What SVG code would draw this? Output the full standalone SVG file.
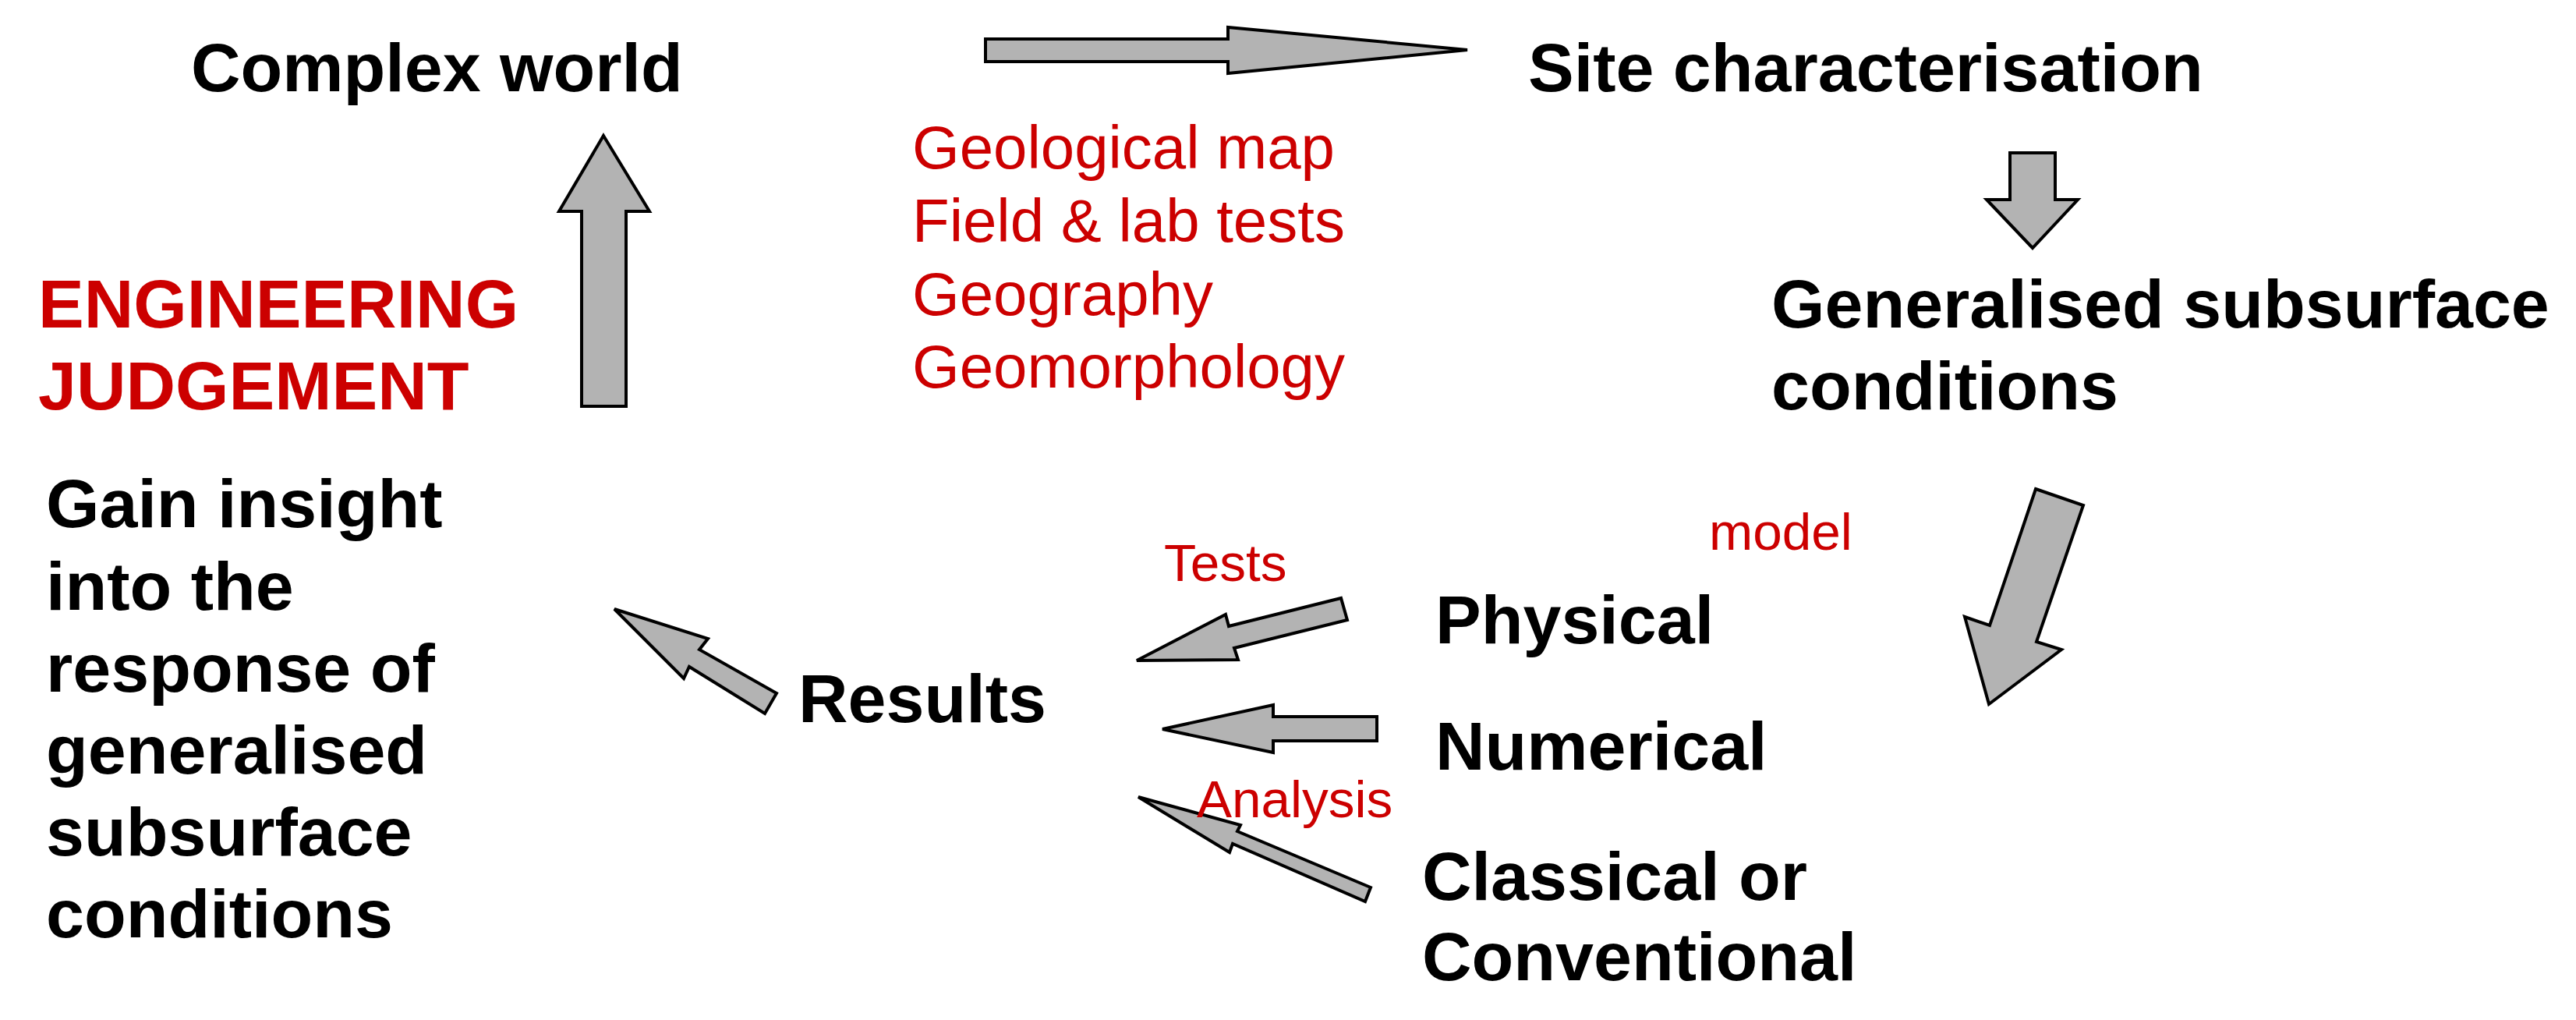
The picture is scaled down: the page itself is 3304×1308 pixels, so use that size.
<svg xmlns="http://www.w3.org/2000/svg" width="3304" height="1308" viewBox="0 0 3304 1308">
<style>
.arrow{fill:#b3b3b3;stroke:#000;stroke-width:4;stroke-linejoin:miter}
.node{font-family:"Liberation Sans",Arial,sans-serif;font-weight:bold;font-size:88px;fill:#000}
.judge{font-family:"Liberation Sans",Arial,sans-serif;font-weight:bold;font-size:88px;fill:#cc0000}
.list{font-family:"Liberation Sans",Arial,sans-serif;font-size:78px;fill:#cc0000}
.lbl{font-family:"Liberation Sans",Arial,sans-serif;font-size:67.5px;fill:#cc0000}
</style>
<rect width="3304" height="1308" fill="#fff"/>
<g id="connectors">
<polygon class="arrow" points="1264,50 1575,50 1575,35 1882,64 1575,94 1575,79 1264,79"/>
<polygon class="arrow" points="2578,196 2636,196 2636,256 2665,256 2607,318 2548,256 2578,256"/>
<polygon class="arrow" points="2611,627 2672,648 2612,823 2644,833 2551,903 2520,791 2552,802"/>
<polygon class="arrow" points="1458,847 1572,788 1576,803 1720,767 1728,795 1583,831 1588,846"/>
<polygon class="arrow" points="1491,935 1633,904 1633,919 1766,919 1766,950 1633,950 1633,965"/>
<polygon class="arrow" points="1460,1022 1591,1058 1587,1066 1758,1138 1751,1156 1581,1082 1577,1093"/>
<polygon class="arrow" points="788,781 908,819 897,833 996,889 981,915 884,855 877,870"/>
<polygon class="arrow" points="774,174 833,271 803,271 803,521 746,521 746,271 717,271"/>
</g>
<g id="complex-world"><text class="node" x="245" y="117">Complex world</text></g>
<g id="site-characterisation"><text class="node" x="1960" y="117">Site characterisation</text></g>
<g id="site-data">
<text class="list" x="1170" y="216">Geological map</text>
<text class="list" x="1170" y="310">Field &amp; lab tests</text>
<text class="list" x="1170" y="404">Geography</text>
<text class="list" x="1170" y="497">Geomorphology</text>
</g>
<g id="generalised-conditions">
<text class="node" x="2272" y="420">Generalised subsurface</text>
<text class="node" x="2272" y="525">conditions</text>
</g>
<g id="engineering-judgement">
<text class="judge" x="49" y="420">ENGINEERING</text>
<text class="judge" x="49" y="525">JUDGEMENT</text>
</g>
<g id="gain-insight">
<text class="node" x="59" y="676">Gain insight</text>
<text class="node" x="59" y="782">into the</text>
<text class="node" x="59" y="887">response of</text>
<text class="node" x="59" y="992">generalised</text>
<text class="node" x="59" y="1097">subsurface</text>
<text class="node" x="59" y="1202">conditions</text>
</g>
<g id="results"><text class="node" x="1024" y="926">Results</text></g>
<g id="model-label"><text class="lbl" x="2192" y="705">model</text></g>
<g id="physical"><text class="node" x="1841" y="825">Physical</text></g>
<g id="numerical"><text class="node" x="1841" y="987">Numerical</text></g>
<g id="classical">
<text class="node" x="1824" y="1154">Classical or</text>
<text class="node" x="1824" y="1257">Conventional</text>
</g>
<g id="tests-label"><text class="lbl" x="1493" y="745">Tests</text></g>
<g id="analysis-label"><text class="lbl" x="1535" y="1048">Analysis</text></g>
</svg>
